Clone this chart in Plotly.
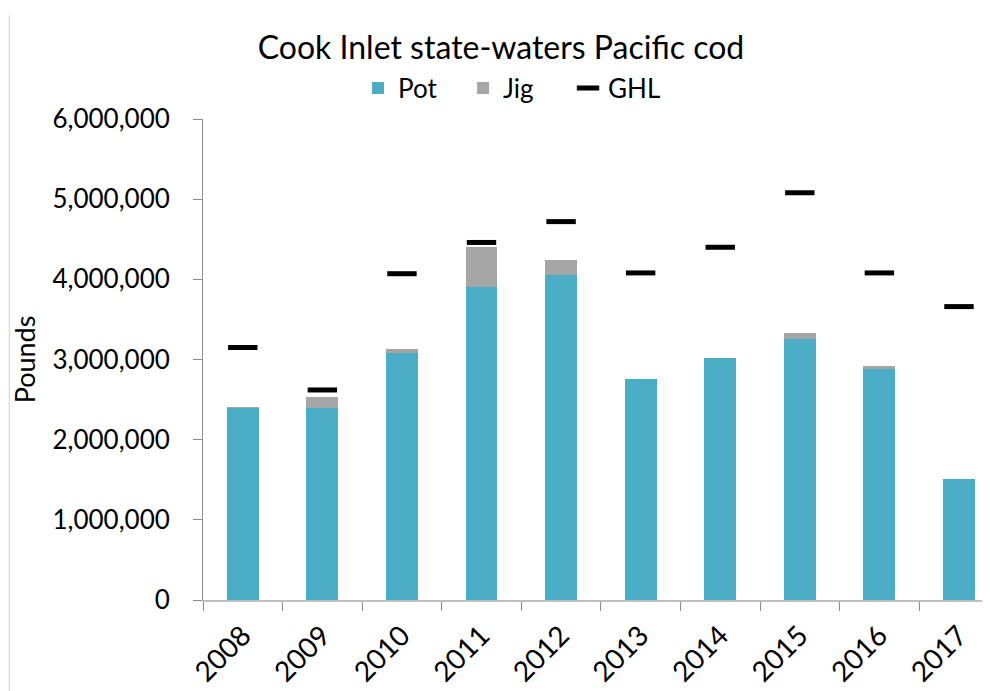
import plotly.graph_objects as go

years = ["2008", "2009", "2010", "2011", "2012", "2013", "2014", "2015", "2016", "2017"]
pot = [2395000, 2400000, 3075000, 3910000, 4050000, 2755000, 3020000, 3250000, 2880000, 1510000]
jig = [5000, 135000, 55000, 490000, 190000, 0, 0, 75000, 45000, 0]
ghl = [3150000, 2620000, 4070000, 4460000, 4720000, 4080000, 4400000, 5080000, 4080000, 3660000]

POT_COLOR = "#4BACC6"
JIG_COLOR = "#A5A5A5"
FONT = "Lato"

fig = go.Figure()
fig.add_trace(go.Bar(
    x=years, y=pot, name="Pot",
    marker=dict(color=POT_COLOR, line_width=0),
))
fig.add_trace(go.Bar(
    x=years, y=jig, name="Jig",
    marker=dict(color=JIG_COLOR, line_width=0),
))
fig.add_trace(go.Scatter(
    x=years, y=ghl, name="GHL", mode="markers",
    marker=dict(symbol="line-ew", size=21, color="black",
                line=dict(color="black", width=5)),
))

# the page body adds an 8px offset, so margins are trimmed to compensate
fig.update_layout(
    width=990, height=691,
    paper_bgcolor="white", plot_bgcolor="white",
    font=dict(family=FONT, color="black"),
    barmode="stack",
    bargap=0.6,
    margin=dict(l=195, r=8, t=111, b=99, autoexpand=False),
    title=dict(text="Cook Inlet state-waters Pacific cod",
               x=0.498, xanchor="center", y=0.943, yanchor="middle",
               font=dict(size=32, family=FONT)),
    legend=dict(orientation="h", x=0.197, xanchor="left",
                y=1.064, yanchor="middle",
                font=dict(size=26, family=FONT),
                entrywidth=60, entrywidthmode="pixels",
                itemwidth=30, traceorder="normal"),
    showlegend=True,
)

fig.update_yaxes(
    range=[0, 6000000], dtick=1000000, tickformat=",d",
    showgrid=False, zeroline=False, automargin=False,
    showline=True, linecolor="#8c8c8c", linewidth=1,
    ticks="outside", ticklen=9, tickcolor="#8c8c8c",
    ticklabelstandoff=18,
    tickfont=dict(size=26, family=FONT),
    title=dict(text="Pounds", font=dict(size=27, family=FONT), standoff=8),
)
fig.update_xaxes(
    type="category", range=[-0.5, 9.39], automargin=False,
    showgrid=False, showline=True, linecolor="#bfbfbf", linewidth=2,
    ticks="outside", tickson="boundaries", ticklen=9, tickcolor="#8c8c8c",
    ticklabelstandoff=6,
    tickangle=-45, tickfont=dict(size=28, family=FONT),
)

# faint chart border on the left edge
fig.add_shape(type="line", xref="paper", yref="paper",
              x0=-0.246, x1=-0.246, y0=1.215, y1=-0.22,
              line=dict(color="#dcdcdc", width=1.5))

fig.write_html("out.html")
